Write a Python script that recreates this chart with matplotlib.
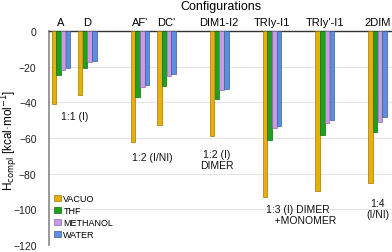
import numpy as np
import matplotlib.pyplot as plt

plt.rcParams['font.family'] = ['Liberation Sans', 'DejaVu Sans']

configs = ["A", "D", "AF'", "DC'", "DIM1-I2", "TRIy-I1", "TRIy'-I1", "2DIM"]
positions = [0, 1, 3, 4, 6, 8, 10, 12]
vacuo = [-41.0, -35.8, -62.4, -53.0, -59.0, -93.2, -89.8, -85.2]
thf = [-25.0, -20.9, -37.3, -31.0, -38.1, -61.0, -58.3, -56.8]
methanol = [-21.7, -17.5, -31.5, -25.4, -33.4, -54.3, -51.5, -51.0]
water = [-20.9, -17.0, -30.3, -24.3, -32.5, -53.4, -49.7, -48.4]

series = [("VACUO", vacuo, '#E8AE0C', '#A07800'),
          ("THF", thf, '#1FA01F', '#0E6E0E'),
          ("METHANOL", methanol, '#C99BE3', '#8E6AA8'),
          ("WATER", water, '#5E8DE0', '#3A5E9E')]

fig = plt.figure(figsize=(3.92, 2.53), dpi=100)
ax = fig.add_axes([0.125, 0.028, 0.875, 0.846])

x = np.array(positions, dtype=float)
w = 0.17
for i, (name, vals, fc, ec) in enumerate(series):
    ax.bar(x + (i - 1.5) * 0.18, vals, width=w, color=fc, edgecolor=ec,
           linewidth=0.5, label=name, zorder=3)

ax.set_xlim(-0.45, 12.55)
ax.set_ylim(-120, 0)
ax.set_yticks(np.arange(-120, 1, 20))
ax.yaxis.grid(True, color='#e4e4e4', linewidth=0.7, zorder=0)
ax.tick_params(axis='y', length=0, labelsize=7.5, colors='#222222', pad=9)

ax.xaxis.set_ticks_position('top')
ax.set_xticks(positions)
ax.set_xticklabels(configs)
ax.tick_params(axis='x', length=0, labelsize=8, pad=3)
ax.set_title("Configurations", fontsize=9, pad=16)

ax.spines['right'].set_visible(False)
ax.spines['bottom'].set_visible(False)
ax.spines['top'].set_color('#333333')
ax.spines['top'].set_linewidth(1.0)
ax.spines['left'].set_color('#888888')
ax.spines['left'].set_linewidth(1.2)

fig.text(10 / 392, 0.447, r"H$_{\mathrm{compl}}$ [kcal·mol$^{-1}$]", fontsize=8.5,
         rotation=90, ha='center', va='center')

txt = dict(fontsize=7.5, ha='center', va='center', color='#111111')
ax.text(0.53, -47.6, "1:1 (I)", **txt)
ax.text(3.45, -70.6, "1:2 (I/NI)", **txt)
ax.text(5.9, -72.3, "1:2 (I)\nDIMER", linespacing=1.1, **txt)
ax.text(7.77, -103.0, "1:3 (I) DIMER\n   +MONOMER", fontsize=7.5, ha='left',
        va='center', linespacing=1.1, color='#111111')
ax.text(12.0, -99.7, "1:4\n(I/NI)", linespacing=1.1, **txt)

leg = ax.legend(loc='lower left', bbox_to_anchor=(0.0, 0.0), frameon=False,
                fontsize=6.5, handlelength=0.7, handleheight=0.7,
                handletextpad=0.3, labelspacing=0.35, borderaxespad=0.2)

fig.savefig('out.png', dpi=100)
